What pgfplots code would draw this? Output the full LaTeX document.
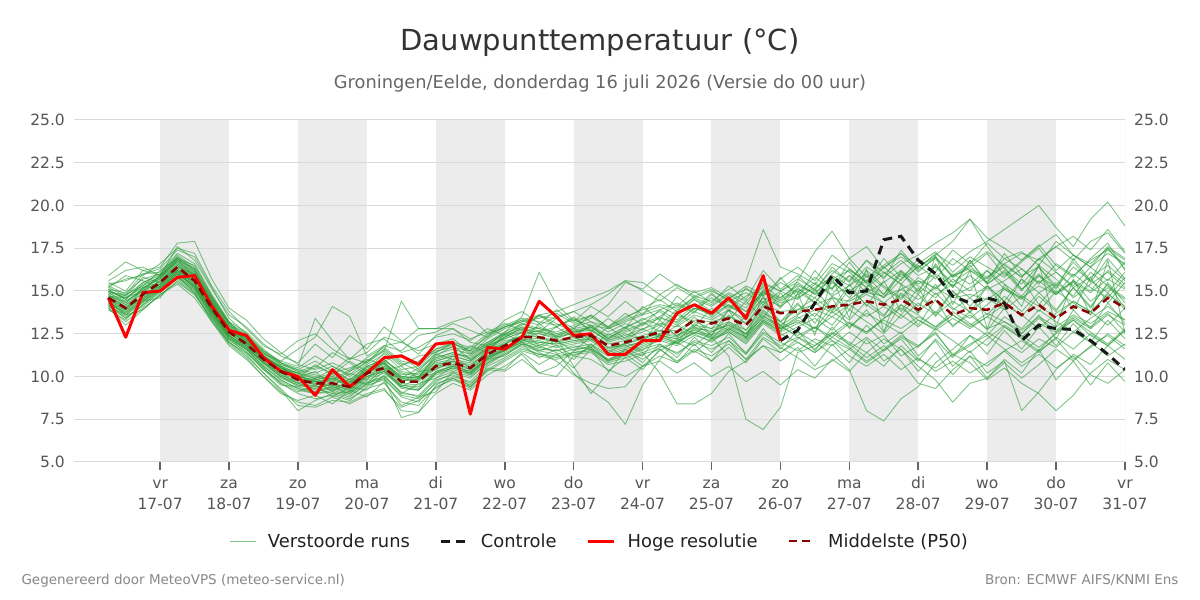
\documentclass[border=0pt]{standalone}
\usepackage{fontspec}
\setmainfont{DejaVu Sans}
\usepackage{pgfplots}
\pgfplotsset{compat=1.18}

\definecolor{runs}{RGB}{44,158,58}
\definecolor{band}{RGB}{236,236,236}
\definecolor{gridc}{RGB}{218,218,218}
\definecolor{ticktxt}{RGB}{85,85,85}
\definecolor{p50}{RGB}{139,0,0}

% two-line date label: weekday over day-month
\newcommand\daylab[2]{\begin{tabular}{@{}c@{}}#1\\#2\end{tabular}}

% 6-hourly series: ensemble and median start 16-07 06 UTC, control continues from 26-07 00 UTC
\pgfplotsset{
  /pgfplots/table/ens/.style={row sep=\\, header=false, x expr=16.25+0.25*\coordindex, y index=0},
  /pgfplots/table/ctl/.style={row sep=\\, header=false, x expr=26+0.25*\coordindex, y index=0},
  run/.style={runs, opacity=0.6, line width=0.9pt, line join=round},
  legend image code/.code={\draw[#1] (0pt,0pt) -- (26pt,0pt);},
  frame/.style={at={(74pt,138pt)}, anchor=south west, scale only axis,
    width=1051pt, height=342pt, xmin=15.75, xmax=31, ymin=5, ymax=25},
}

\begin{document}
\begin{tikzpicture}[x=1pt,y=1pt]
\path[use as bounding box] (0,0) rectangle (1200,600);

\node[anchor=base, text=black!80, font=\fontsize{29}{35}\selectfont] at (600,549) {Dauwpunttemperatuur (°C)};
\node[anchor=base, text=black!60, font=\fontsize{17.8}{21}\selectfont] at (600,511) {Groningen/Eelde, donderdag 16 juli 2026 (Versie do 00 uur)};
\node[anchor=base west, text=black!47, font=\fontsize{13.5}{16}\selectfont] at (18,15) {Gegenereerd door MeteoVPS (meteo-service.nl)};
\node[anchor=base east, text=black!47, font=\fontsize{13.5}{16}\selectfont] at (1182,15) {Bron: ECMWF AIFS/KNMI Ens};

% day bands and the right-hand value scale
\begin{axis}[
  frame,
  hide x axis,
  axis y line*=right, y axis line style={draw=none},
  tick align=outside, major tick length=8pt,
  ytick={5,7.5,10,12.5,15,17.5,20,22.5,25},
  yticklabels={5.0,7.5,10.0,12.5,15.0,17.5,20.0,22.5,25.0},
  ytick style={draw=none},
  yticklabel style={text=ticktxt, font=\fontsize{15.5}{18}\selectfont, inner xsep=1pt},
]
\fill[band] (axis cs:17,5) rectangle (axis cs:18,25);
\fill[band] (axis cs:19,5) rectangle (axis cs:20,25);
\fill[band] (axis cs:21,5) rectangle (axis cs:22,25);
\fill[band] (axis cs:23,5) rectangle (axis cs:24,25);
\fill[band] (axis cs:25,5) rectangle (axis cs:26,25);
\fill[band] (axis cs:27,5) rectangle (axis cs:28,25);
\fill[band] (axis cs:29,5) rectangle (axis cs:30,25);
\draw[gridc, line width=1pt] (axis cs:31,5) -- (axis cs:31,25);
\end{axis}

\begin{axis}[
  frame, clip=true,
  axis line style={draw=none},
  tick align=outside, major tick length=8pt,
  xtick={17,...,31},
  xticklabels={{\daylab{vr}{17-07}},{\daylab{za}{18-07}},{\daylab{zo}{19-07}},{\daylab{ma}{20-07}},{\daylab{di}{21-07}},{\daylab{wo}{22-07}},{\daylab{do}{23-07}},{\daylab{vr}{24-07}},{\daylab{za}{25-07}},{\daylab{zo}{26-07}},{\daylab{ma}{27-07}},{\daylab{di}{28-07}},{\daylab{wo}{29-07}},{\daylab{do}{30-07}},{\daylab{vr}{31-07}}},
  xtick pos=lower,
  xtick style={draw=black!60, line width=1.6pt},
  xticklabel style={text=ticktxt, font=\fontsize{15.5}{21}\selectfont, anchor=north, inner ysep=0pt, yshift=-3.5pt},
  ytick={5,7.5,10,12.5,15,17.5,20,22.5,25},
  yticklabels={5.0,7.5,10.0,12.5,15.0,17.5,20.0,22.5,25.0},
  ytick pos=left,
  ytick style={draw=none},
  yticklabel style={text=ticktxt, font=\fontsize{15.5}{18}\selectfont, inner xsep=1pt},
  ymajorgrids, grid style={gridc, line width=1pt},
  legend columns=4,
  legend style={at={(0.5,-0.231)}, anchor=center, draw=none, fill=none,
    font=\fontsize{17.9}{21}\selectfont, text=black!87,
    /tikz/every odd column/.append style={column sep=10pt},
    /tikz/every even column/.append style={column sep=28pt}},
]
% perturbed ensemble members
\addplot[run] table[ens] {15.0\\14.6\\15.3\\15.8\\16.9\\16.2\\14.5\\13.0\\12.3\\11.2\\10.5\\10.1\\9.9\\10.4\\9.8\\10.6\\11.0\\10.2\\10.0\\11.1\\11.4\\11.0\\11.8\\12.2\\12.6\\12.9\\12.5\\12.8\\13.0\\12.4\\12.9\\13.3\\13.8\\13.1\\14.0\\13.6\\14.2\\13.5\\14.9\\14.3\\14.6\\15.2\\15.8\\15.0\\15.6\\16.1\\15.4\\14.8\\15.9\\14.7\\15.2\\15.8\\16.4\\15.1\\16.0\\14.9\\15.6\\15.0\\16.2\\15.4\\};
\addlegendentry{Verstoorde runs}
\addplot[run, forget plot] table[ens] {14.2\\13.5\\14.1\\14.9\\15.8\\15.1\\13.6\\12.2\\11.6\\10.5\\9.6\\9.0\\8.7\\8.9\\8.6\\9.4\\9.9\\8.8\\8.5\\9.7\\10.2\\9.9\\10.8\\11.4\\11.9\\11.6\\11.5\\11.8\\11.6\\10.9\\11.2\\11.6\\11.9\\11.3\\12.1\\11.8\\12.3\\11.4\\12.6\\12.0\\11.5\\12.2\\11.8\\12.6\\11.9\\12.4\\11.2\\11.8\\12.5\\11.3\\11.9\\12.4\\11.6\\10.8\\11.5\\12.2\\11.0\\11.7\\12.5\\11.8\\};
\addplot[run, forget plot] table[ens] {15.4\\15.6\\16.0\\16.3\\17.4\\17.0\\15.2\\13.4\\12.5\\11.5\\10.8\\10.5\\11.2\\10.6\\10.1\\10.9\\11.6\\10.8\\10.3\\11.4\\11.9\\11.5\\12.0\\12.5\\13.0\\13.6\\13.1\\12.6\\12.9\\12.2\\12.8\\13.4\\13.0\\13.9\\14.5\\13.8\\14.6\\14.0\\15.3\\14.6\\15.4\\14.8\\16.0\\16.9\\15.8\\16.5\\17.2\\16.4\\17.0\\15.9\\16.6\\17.3\\16.5\\15.8\\16.9\\17.6\\16.8\\17.9\\18.4\\17.2\\};
\addplot[run, forget plot] table[ens] {14.8\\14.2\\15.0\\15.6\\16.6\\15.9\\14.3\\12.9\\12.1\\11.3\\10.9\\11.6\\12.3\\14.1\\13.5\\11.2\\11.8\\12.0\\11.5\\11.9\\12.2\\11.4\\11.9\\12.4\\12.8\\12.6\\12.9\\13.4\\12.7\\12.1\\12.5\\12.1\\12.9\\13.6\\13.2\\12.8\\13.9\\13.1\\14.4\\13.2\\13.9\\14.6\\13.8\\15.1\\14.2\\13.5\\14.9\\14.1\\15.4\\14.0\\13.4\\14.2\\15.1\\14.6\\13.8\\15.0\\14.3\\13.6\\14.9\\13.9\\};
\addplot[run, forget plot] table[ens] {15.2\\15.9\\15.6\\15.2\\16.1\\15.3\\13.9\\12.4\\11.8\\11.1\\10.6\\10.2\\10.0\\9.7\\10.3\\10.8\\11.5\\14.4\\12.8\\12.8\\12.8\\12.0\\11.8\\12.6\\13.1\\12.8\\12.4\\12.9\\13.2\\12.6\\13.1\\12.7\\13.5\\14.2\\13.7\\14.8\\14.1\\13.6\\15.1\\14.4\\15.0\\14.3\\15.5\\14.8\\16.2\\15.3\\14.6\\15.8\\15.1\\16.0\\15.4\\16.2\\15.1\\14.5\\15.6\\14.8\\16.0\\15.2\\14.6\\15.8\\};
\addplot[run, forget plot] table[ens] {14.0\\13.2\\14.0\\14.7\\15.6\\14.8\\13.4\\12.0\\11.3\\10.2\\9.3\\8.3\\8.2\\8.6\\8.5\\9.0\\9.3\\8.0\\7.9\\9.0\\9.6\\9.2\\10.1\\10.6\\11.3\\10.2\\10.0\\11.2\\11.0\\10.4\\10.0\\10.6\\11.2\\10.8\\11.5\\10.9\\11.7\\10.8\\12.2\\11.4\\12.0\\11.4\\12.3\\11.7\\10.9\\11.6\\12.4\\11.8\\12.6\\11.2\\11.8\\12.6\\12.0\\11.4\\12.2\\11.7\\12.6\\12.0\\11.2\\11.9\\};
\addplot[run, forget plot] table[ens] {14.5\\13.8\\14.6\\15.3\\16.2\\15.5\\13.8\\12.5\\11.9\\10.8\\10.0\\9.4\\9.1\\9.3\\9.0\\9.8\\10.2\\9.4\\9.2\\10.1\\10.4\\10.1\\10.9\\11.5\\12.0\\11.8\\11.4\\10.2\\9.2\\8.5\\7.2\\9.5\\11.0\\12.2\\11.8\\12.6\\13.0\\12.4\\13.6\\12.8\\13.2\\12.6\\13.8\\13.1\\12.5\\13.4\\14.2\\13.6\\12.9\\13.8\\13.1\\12.4\\13.5\\12.8\\13.9\\13.2\\12.6\\13.4\\14.1\\13.3\\};
\addplot[run, forget plot] table[ens] {14.7\\14.3\\15.2\\15.7\\16.8\\16.0\\14.4\\12.8\\12.0\\11.0\\10.4\\9.9\\9.6\\9.2\\9.5\\10.3\\10.8\\10.0\\9.9\\10.8\\11.0\\10.8\\11.6\\12.1\\12.3\\12.5\\12.2\\12.6\\12.8\\12.0\\12.3\\12.6\\13.0\\12.4\\12.9\\12.3\\11.2\\7.5\\6.9\\8.2\\11.4\\11.8\\12.5\\13.2\\12.6\\13.4\\14.0\\13.3\\12.8\\13.6\\12.9\\13.5\\14.2\\13.6\\12.8\\13.7\\14.4\\13.8\\13.0\\14.0\\};
\addplot[run, forget plot] table[ens] {15.1\\14.9\\15.7\\16.0\\17.1\\16.4\\14.7\\13.1\\12.4\\11.4\\10.7\\10.3\\10.1\\9.8\\10.4\\11.0\\10.7\\9.9\\10.5\\11.3\\11.6\\11.3\\12.2\\12.8\\13.2\\13.4\\13.7\\13.1\\13.6\\12.9\\13.4\\14.0\\14.5\\13.8\\14.7\\14.4\\15.1\\15.6\\18.6\\16.4\\16.0\\15.4\\16.6\\16.1\\15.2\\16.0\\16.8\\15.9\\16.4\\15.5\\16.2\\15.7\\16.9\\16.3\\15.4\\16.6\\15.9\\16.8\\17.4\\16.5\\};
\addplot[run, forget plot] table[ens] {14.3\\13.9\\14.5\\15.4\\16.3\\15.5\\13.9\\12.3\\11.7\\10.9\\10.1\\9.7\\9.4\\9.5\\9.2\\10.0\\10.4\\9.5\\9.4\\10.3\\10.6\\10.3\\11.0\\11.6\\12.1\\12.0\\11.9\\12.1\\12.2\\11.5\\11.8\\12.0\\12.4\\12.2\\12.8\\12.7\\13.0\\12.5\\13.7\\13.2\\12.6\\12.0\\11.3\\10.4\\8.0\\7.4\\8.7\\9.4\\10.8\\11.6\\12.4\\11.8\\12.9\\12.2\\11.5\\12.6\\13.3\\12.4\\11.8\\12.7\\};
\addplot[run, forget plot] table[ens] {15.3\\14.8\\16.0\\16.1\\17.2\\16.6\\14.8\\13.2\\12.6\\11.6\\10.8\\10.4\\10.2\\10.6\\10.0\\10.7\\11.3\\10.4\\10.6\\11.5\\11.7\\11.5\\12.4\\12.9\\13.3\\13.0\\13.5\\13.8\\14.2\\14.8\\15.6\\15.0\\14.4\\15.2\\14.6\\15.0\\14.5\\15.3\\14.8\\15.7\\16.4\\15.6\\17.1\\16.3\\15.5\\16.9\\15.8\\16.6\\17.3\\16.1\\17.0\\16.4\\15.8\\16.7\\17.5\\16.2\\17.1\\16.4\\17.6\\16.9\\};
\addplot[run, forget plot] table[ens] {14.9\\14.4\\15.1\\15.9\\16.7\\16.1\\14.4\\12.8\\12.1\\11.2\\10.6\\10.0\\9.8\\10.1\\9.7\\10.5\\10.9\\10.3\\10.1\\11.0\\11.3\\11.2\\12.0\\12.6\\13.5\\16.1\\14.2\\13.3\\13.0\\12.8\\13.2\\13.6\\13.9\\14.3\\13.8\\14.6\\14.0\\14.7\\15.2\\14.1\\14.8\\15.5\\14.7\\15.3\\16.0\\15.2\\14.5\\15.6\\14.8\\15.4\\14.6\\15.3\\14.4\\15.7\\14.9\\15.5\\14.7\\16.1\\15.3\\14.6\\};
\addplot[run, forget plot] table[ens] {14.4\\13.6\\14.3\\15.1\\16.0\\15.2\\13.7\\12.4\\11.8\\10.7\\9.9\\9.5\\9.3\\9.0\\9.1\\9.7\\10.0\\9.1\\8.8\\9.8\\10.1\\9.6\\10.4\\10.3\\11.0\\10.2\\10.6\\11.5\\11.8\\11.2\\11.5\\11.0\\11.7\\12.0\\11.4\\12.2\\12.6\\11.9\\13.1\\12.4\\12.9\\13.4\\12.7\\13.9\\13.2\\12.5\\13.6\\12.9\\13.8\\13.0\\13.6\\12.8\\13.2\\12.5\\13.4\\12.7\\13.5\\12.9\\13.7\\12.6\\};
\addplot[run, forget plot] table[ens] {14.6\\14.1\\14.9\\15.6\\16.5\\15.7\\14.1\\12.7\\11.9\\11.1\\10.2\\9.8\\9.6\\9.9\\9.5\\10.3\\10.7\\9.9\\9.8\\10.7\\10.9\\10.6\\11.5\\12.0\\12.4\\12.7\\12.3\\12.5\\12.9\\12.3\\12.7\\13.1\\13.5\\13.0\\13.8\\13.4\\14.2\\13.6\\14.9\\14.5\\15.1\\14.6\\15.9\\15.3\\16.4\\15.8\\16.6\\17.1\\17.8\\18.4\\19.2\\18.1\\17.5\\16.8\\17.6\\18.3\\17.1\\16.4\\17.2\\16.6\\};
\addplot[run, forget plot] table[ens] {14.8\\14.0\\14.7\\15.4\\16.2\\15.4\\13.9\\12.6\\12.0\\11.0\\10.3\\9.8\\9.5\\9.6\\9.3\\10.1\\10.5\\9.6\\9.5\\10.5\\10.7\\10.4\\11.2\\11.7\\12.2\\12.1\\11.8\\12.0\\12.2\\11.6\\11.9\\12.2\\12.5\\12.3\\12.9\\12.6\\13.1\\12.5\\13.4\\12.9\\12.4\\12.9\\12.1\\11.6\\12.3\\11.5\\12.2\\11.0\\10.5\\11.3\\10.8\\9.8\\10.5\\9.6\\9.0\\8.0\\8.9\\10.2\\11.0\\10.4\\};
\addplot[run, forget plot] table[ens] {15.0\\14.5\\15.4\\15.8\\16.8\\15.9\\14.2\\12.7\\12.0\\11.1\\10.4\\10.0\\9.7\\9.9\\9.6\\10.4\\10.8\\10.0\\9.9\\10.9\\11.2\\10.9\\11.7\\12.3\\12.7\\12.6\\12.4\\12.7\\12.9\\12.2\\12.6\\13.0\\13.4\\13.2\\14.0\\13.7\\14.4\\13.8\\15.0\\14.6\\15.3\\14.9\\15.7\\16.2\\15.6\\16.4\\17.0\\16.3\\17.2\\16.5\\17.3\\17.9\\18.6\\19.3\\20.0\\18.7\\17.6\\19.2\\20.2\\18.8\\};
\addplot[run, forget plot] table[ens] {14.4\\13.7\\14.4\\15.2\\16.1\\15.3\\13.8\\12.3\\11.6\\10.8\\10.0\\9.6\\9.2\\9.4\\9.1\\9.9\\10.3\\9.3\\9.2\\10.2\\10.5\\10.2\\11.1\\11.6\\12.1\\11.9\\11.7\\11.9\\12.1\\11.4\\11.7\\12.1\\12.4\\12.2\\12.7\\12.4\\12.9\\12.3\\13.5\\13.0\\13.6\\14.3\\13.7\\14.5\\15.2\\14.6\\15.7\\16.4\\17.1\\17.9\\19.2\\17.6\\16.3\\15.4\\16.5\\15.7\\14.6\\15.4\\16.1\\15.2\\};
\addplot[run, forget plot] table[ens] {15.6\\16.2\\16.4\\15.9\\17.0\\16.3\\14.6\\13.0\\12.2\\11.3\\10.6\\10.2\\10.5\\11.4\\10.8\\10.1\\10.9\\11.3\\10.4\\11.2\\11.8\\11.0\\11.6\\12.3\\12.9\\12.3\\12.0\\12.4\\11.7\\12.5\\12.1\\12.8\\12.3\\13.0\\12.5\\13.2\\12.7\\13.5\\14.6\\12.9\\14.2\\13.5\\14.7\\13.9\\15.1\\14.3\\13.6\\14.8\\13.7\\15.0\\14.1\\15.3\\14.4\\13.5\\14.7\\13.8\\15.2\\14.0\\15.5\\14.3\\};
\addplot[run, forget plot] table[ens] {14.1\\13.4\\14.2\\15.0\\15.9\\15.1\\13.5\\12.1\\11.5\\10.4\\9.7\\9.2\\9.0\\9.2\\8.9\\9.5\\9.8\\8.9\\8.7\\9.6\\9.9\\9.5\\10.6\\11.1\\11.7\\11.3\\11.2\\11.4\\11.5\\10.8\\11.1\\11.4\\11.8\\11.4\\12.0\\11.6\\12.1\\11.3\\12.5\\11.8\\12.3\\11.8\\12.6\\12.0\\11.4\\12.2\\11.6\\10.6\\9.8\\8.5\\9.6\\9.9\\10.8\\9.9\\10.7\\11.6\\10.9\\11.8\\12.4\\11.6\\};
\addplot[run, forget plot] table[ens] {14.6\\14.2\\14.8\\15.5\\16.3\\15.6\\14.0\\12.6\\11.8\\11.0\\10.3\\9.9\\9.7\\9.7\\9.6\\10.3\\10.6\\9.8\\9.8\\10.7\\10.9\\10.7\\11.4\\11.9\\12.4\\12.3\\12.1\\12.3\\12.5\\11.9\\12.1\\12.4\\12.7\\12.7\\13.3\\13.2\\13.5\\13.1\\14.2\\13.8\\13.9\\14.2\\14.6\\14.4\\14.9\\14.7\\15.1\\14.5\\15.2\\14.6\\14.8\\14.5\\15.2\\14.6\\15.3\\14.8\\15.5\\14.9\\15.7\\15.1\\};
\addplot[run, forget plot] table[ens] {14.0\\13.0\\13.9\\14.8\\15.5\\14.8\\13.4\\12.0\\11.2\\10.2\\9.2\\8.0\\8.6\\9.0\\8.7\\9.3\\9.6\\8.5\\8.3\\9.4\\9.8\\9.4\\10.3\\10.9\\11.5\\11.2\\11.0\\11.3\\11.4\\10.7\\10.9\\11.3\\11.6\\10.9\\11.6\\11.2\\11.9\\11.0\\12.3\\11.7\\11.1\\10.4\\10.9\\11.6\\10.8\\11.5\\12.3\\11.7\\12.8\\12.1\\11.4\\12.2\\13.0\\12.4\\11.7\\12.5\\13.3\\12.6\\11.9\\12.8\\};
\addplot[run, forget plot] table[ens] {15.9\\16.7\\16.2\\16.4\\17.8\\17.9\\15.7\\14.0\\13.3\\12.2\\11.4\\10.7\\10.4\\10.8\\10.3\\11.1\\11.7\\10.9\\10.7\\11.6\\12.0\\11.7\\12.5\\13.0\\13.4\\13.2\\13.0\\13.3\\13.5\\12.8\\13.3\\13.7\\14.1\\13.6\\14.5\\14.1\\14.8\\14.2\\15.5\\15.0\\15.7\\15.1\\16.2\\15.6\\16.8\\16.1\\15.4\\16.5\\15.7\\16.9\\16.2\\15.5\\16.6\\15.8\\16.9\\16.1\\15.3\\16.4\\15.6\\16.7\\};
\addplot[run, forget plot] table[ens] {14.3\\13.7\\14.5\\15.2\\16.0\\15.3\\13.7\\12.2\\11.6\\10.6\\9.8\\9.3\\9.1\\9.4\\9.0\\9.6\\9.9\\7.6\\7.9\\9.5\\10.0\\9.7\\10.7\\11.3\\11.8\\11.5\\11.3\\11.6\\11.7\\11.0\\11.3\\11.7\\12.1\\11.8\\12.4\\12.1\\12.6\\12.0\\13.2\\12.7\\13.3\\12.8\\13.5\\12.9\\13.7\\13.1\\12.5\\13.3\\12.7\\13.4\\12.8\\13.5\\12.9\\12.3\\13.1\\12.6\\13.4\\12.8\\13.6\\13.0\\};
\addplot[run, forget plot] table[ens] {15.2\\14.7\\15.5\\15.9\\16.9\\16.1\\14.5\\13.0\\12.3\\11.5\\10.9\\10.6\\13.4\\12.1\\11.0\\11.4\\12.3\\12.0\\12.8\\12.8\\13.2\\13.5\\12.5\\12.9\\13.2\\13.5\\13.4\\13.8\\13.2\\12.9\\13.5\\13.9\\14.2\\14.0\\14.6\\14.2\\14.9\\14.4\\15.4\\15.0\\15.5\\14.8\\15.2\\15.9\\14.9\\15.5\\16.2\\15.4\\16.0\\15.3\\15.9\\15.1\\15.6\\16.3\\15.5\\16.1\\15.2\\15.8\\16.5\\15.6\\};
\addplot[run, forget plot] table[ens] {14.5\\14.0\\14.6\\15.3\\16.2\\15.4\\13.8\\12.5\\11.9\\10.9\\10.1\\9.6\\9.4\\9.5\\9.2\\10.0\\10.4\\9.4\\9.2\\10.2\\10.5\\10.2\\11.0\\11.6\\12.0\\11.4\\10.9\\10.1\\9.6\\9.3\\9.4\\10.6\\11.5\\12.1\\12.5\\12.0\\12.8\\12.3\\13.3\\12.6\\13.1\\13.7\\13.0\\14.2\\13.5\\14.1\\13.4\\14.3\\13.6\\14.4\\13.8\\14.6\\13.9\\14.7\\14.1\\13.5\\14.4\\13.8\\14.8\\14.1\\};
\addplot[run, forget plot] table[ens] {14.7\\14.4\\15.0\\15.6\\16.4\\15.7\\14.2\\12.7\\12.0\\11.1\\10.4\\9.9\\9.7\\9.8\\9.5\\10.2\\10.6\\9.8\\9.7\\10.6\\10.8\\10.5\\11.3\\11.9\\12.3\\12.2\\12.0\\12.2\\12.4\\11.7\\11.8\\11.4\\10.2\\8.4\\8.4\\9.0\\10.3\\10.9\\11.8\\11.4\\12.2\\12.9\\12.3\\13.1\\12.6\\13.3\\12.8\\13.5\\12.9\\13.6\\13.0\\13.7\\13.2\\12.7\\13.5\\12.9\\13.6\\13.1\\13.8\\13.3\\};
\addplot[run, forget plot] table[ens] {15.0\\14.6\\15.2\\15.7\\16.6\\15.8\\14.3\\12.9\\12.2\\11.2\\10.5\\10.2\\9.9\\10.2\\9.8\\10.6\\11.0\\10.1\\10.2\\11.1\\11.4\\11.1\\11.9\\12.5\\12.9\\12.8\\12.6\\13.0\\13.4\\14.2\\15.5\\15.1\\16.0\\15.3\\14.9\\15.2\\14.6\\15.1\\14.7\\15.5\\14.9\\15.8\\15.1\\16.3\\15.5\\14.8\\16.0\\15.3\\14.6\\15.7\\15.0\\16.2\\15.4\\14.7\\15.9\\15.2\\16.4\\15.6\\14.9\\16.1\\};
\addplot[run, forget plot] table[ens] {14.2\\13.8\\14.4\\15.1\\16.0\\15.2\\13.6\\12.3\\11.6\\10.6\\9.8\\9.3\\9.0\\9.1\\8.8\\9.6\\10.0\\9.0\\8.9\\9.9\\10.3\\10.0\\10.8\\11.3\\11.9\\11.7\\11.5\\11.7\\11.9\\11.3\\11.6\\11.9\\12.3\\12.0\\12.6\\12.2\\12.7\\12.1\\13.2\\12.5\\12.0\\11.4\\12.1\\11.2\\10.6\\11.3\\10.4\\11.1\\10.3\\10.9\\10.2\\10.8\\11.5\\10.6\\11.3\\10.5\\11.2\\10.1\\9.6\\10.4\\};
\addplot[run, forget plot] table[ens] {14.9\\14.3\\15.1\\15.8\\16.7\\15.9\\14.3\\12.8\\12.1\\11.2\\10.5\\10.0\\9.8\\10.0\\9.7\\10.4\\10.8\\9.9\\10.0\\10.9\\11.2\\10.9\\11.7\\12.2\\12.6\\12.5\\12.3\\12.6\\12.7\\12.1\\12.4\\12.8\\13.1\\12.9\\13.6\\13.3\\13.9\\13.3\\14.6\\14.1\\15.6\\17.3\\18.5\\16.9\\17.6\\16.3\\17.2\\16.1\\17.0\\15.8\\16.5\\15.4\\16.2\\15.1\\15.9\\14.8\\15.6\\14.4\\15.2\\14.5\\};
\addplot[run, forget plot] table[ens] {14.4\\13.9\\14.7\\15.4\\16.2\\15.5\\13.9\\12.4\\11.7\\10.8\\10.0\\9.5\\9.3\\9.6\\9.3\\10.0\\10.3\\9.5\\9.3\\10.3\\10.6\\10.3\\11.1\\11.7\\12.2\\12.0\\11.9\\12.1\\12.3\\11.7\\11.9\\12.3\\12.5\\12.4\\13.0\\12.8\\13.2\\12.7\\13.9\\13.0\\12.3\\11.6\\12.5\\11.9\\11.1\\11.8\\10.9\\9.6\\9.3\\10.4\\11.2\\10.6\\11.5\\12.1\\11.4\\12.3\\11.6\\12.5\\11.8\\12.7\\};
\addplot[run, forget plot] table[ens] {15.5\\15.0\\16.2\\15.9\\17.6\\16.8\\15.1\\13.6\\12.9\\11.9\\11.2\\10.8\\11.9\\11.1\\12.4\\11.6\\12.9\\12.1\\11.3\\12.4\\12.8\\12.2\\12.6\\13.1\\12.7\\13.6\\12.9\\13.5\\12.6\\13.4\\12.8\\14.1\\13.3\\14.7\\13.9\\14.9\\13.8\\15.2\\14.3\\15.8\\14.6\\16.2\\15.1\\16.7\\15.4\\14.6\\16.1\\14.9\\16.6\\15.2\\16.8\\15.5\\17.2\\15.9\\16.4\\15.1\\16.9\\15.6\\17.5\\16.3\\};
\addplot[run, forget plot] table[ens] {13.9\\13.3\\14.4\\14.6\\15.9\\14.9\\13.2\\11.8\\11.0\\10.0\\9.0\\8.6\\8.9\\8.4\\9.2\\8.8\\9.7\\8.3\\8.8\\9.1\\10.3\\9.4\\10.5\\10.4\\11.4\\10.7\\11.3\\10.5\\11.6\\10.3\\11.1\\10.4\\11.6\\10.8\\11.9\\10.9\\12.1\\11.0\\11.8\\10.9\\11.7\\10.6\\11.9\\10.8\\12.2\\10.9\\11.6\\10.3\\11.4\\10.1\\11.2\\9.9\\11.0\\10.2\\11.6\\9.8\\10.9\\9.5\\10.8\\9.7\\};
\addplot[run, forget plot] table[ens] {14.9\\14.8\\15.3\\16.2\\16.9\\16.5\\14.7\\13.2\\12.2\\11.4\\10.7\\10.4\\10.9\\10.3\\11.1\\10.8\\11.8\\11.5\\12.4\\12.6\\13.1\\12.7\\12.3\\13.3\\13.8\\13.1\\13.9\\13.2\\14.1\\13.5\\14.4\\13.6\\14.8\\14.1\\15.0\\14.3\\15.3\\14.5\\16.2\\15.1\\15.9\\15.0\\16.4\\15.5\\16.8\\15.7\\17.4\\16.2\\16.9\\15.8\\16.4\\17.2\\15.9\\16.8\\17.7\\16.5\\15.8\\16.9\\17.8\\16.2\\};
\addplot[run, forget plot] table[ens] {14.6\\13.9\\15.2\\15.4\\16.5\\15.8\\14.0\\12.7\\12.2\\11.1\\10.6\\9.9\\10.3\\9.4\\10.2\\9.8\\10.9\\9.6\\10.3\\10.4\\11.2\\10.5\\11.6\\11.9\\12.6\\11.8\\12.3\\10.6\\9.0\\10.2\\11.6\\11.2\\12.5\\12.0\\13.1\\12.4\\13.6\\12.7\\14.1\\13.2\\14.3\\13.1\\14.6\\12.8\\13.9\\12.6\\14.2\\13.0\\14.5\\12.9\\13.8\\12.7\\14.0\\12.5\\13.6\\12.2\\13.9\\12.8\\14.3\\13.1\\};
\addplot[run, forget plot] table[ens] {15.1\\14.5\\15.5\\16.0\\17.0\\16.2\\14.6\\13.1\\12.5\\11.4\\10.8\\10.3\\10.6\\10.2\\10.5\\10.9\\11.5\\10.7\\10.9\\11.6\\11.9\\11.6\\12.3\\12.9\\13.3\\13.6\\13.8\\14.2\\14.6\\15.0\\15.6\\15.5\\14.8\\15.4\\14.7\\15.1\\14.4\\14.9\\14.2\\15.0\\14.5\\15.4\\14.8\\15.9\\15.2\\16.4\\15.6\\16.9\\16.1\\17.4\\16.6\\17.8\\16.9\\17.3\\16.5\\17.9\\17.1\\16.6\\17.5\\16.8\\};
\addplot[run, forget plot] table[ens] {14.3\\13.6\\14.4\\15.0\\15.8\\15.0\\13.5\\12.2\\11.4\\10.5\\9.6\\9.1\\9.5\\8.8\\9.4\\9.2\\10.1\\9.0\\9.6\\9.9\\10.6\\10.1\\11.0\\11.2\\11.9\\11.1\\11.6\\11.0\\11.9\\10.9\\11.6\\10.8\\11.9\\11.1\\12.3\\11.4\\12.5\\11.3\\12.8\\11.6\\12.7\\11.5\\12.9\\11.8\\13.0\\11.9\\12.6\\11.2\\12.1\\10.6\\11.5\\10.2\\10.9\\8.0\\9.1\\10.4\\11.3\\10.7\\11.8\\11.0\\};
\addplot[run, forget plot] table[ens] {15.3\\15.7\\15.9\\16.6\\17.5\\17.2\\15.3\\13.8\\12.8\\11.8\\11.3\\12.1\\12.5\\11.6\\11.0\\11.9\\12.2\\11.4\\11.7\\12.3\\12.5\\12.1\\12.8\\12.4\\13.1\\12.6\\13.4\\12.8\\13.6\\12.9\\13.7\\13.0\\13.9\\13.3\\14.2\\13.5\\14.6\\13.8\\15.0\\14.0\\15.2\\14.3\\15.6\\14.6\\15.9\\14.8\\16.2\\15.0\\16.5\\15.2\\16.8\\15.4\\16.1\\15.0\\16.4\\15.3\\16.7\\15.5\\16.9\\15.7\\};
\addplot[run, forget plot] table[ens] {14.5\\14.1\\14.5\\15.2\\16.1\\15.2\\13.7\\12.4\\11.7\\10.8\\10.2\\9.6\\9.9\\9.3\\9.7\\9.6\\10.5\\9.7\\10.0\\10.4\\10.9\\10.4\\11.2\\11.5\\12.0\\11.5\\11.8\\11.2\\11.7\\10.9\\11.3\\10.6\\10.9\\10.2\\10.8\\10.0\\10.6\\9.7\\10.3\\9.5\\10.4\\9.9\\11.0\\10.3\\11.4\\10.6\\11.8\\10.9\\12.2\\11.1\\12.4\\11.3\\12.7\\11.6\\12.9\\11.8\\13.1\\12.0\\13.3\\12.2\\};
\addplot[run, forget plot] table[ens] {14.7\\14.6\\15.0\\15.9\\16.8\\16.3\\14.1\\12.6\\12.3\\10.9\\10.4\\10.2\\9.5\\10.0\\9.3\\10.6\\10.4\\10.6\\9.9\\11.3\\11.0\\11.8\\11.4\\12.5\\12.0\\13.1\\12.3\\12.8\\12.1\\12.9\\12.2\\13.2\\12.6\\13.8\\12.9\\14.0\\13.3\\14.4\\13.4\\14.9\\13.6\\15.1\\13.9\\15.4\\14.1\\15.6\\13.8\\15.2\\13.5\\15.0\\13.7\\15.3\\14.0\\15.7\\14.2\\15.4\\13.9\\15.8\\14.3\\15.5\\};
\addplot[run, forget plot] table[ens] {14.2\\13.4\\14.2\\15.0\\15.7\\14.9\\13.3\\11.9\\11.1\\10.0\\9.1\\8.5\\8.3\\8.8\\8.4\\8.9\\9.2\\8.2\\8.6\\9.3\\9.9\\9.3\\10.4\\11.0\\11.6\\11.3\\11.1\\11.4\\11.6\\11.0\\11.4\\11.8\\12.2\\11.9\\12.6\\12.3\\12.8\\12.2\\13.3\\12.8\\13.4\\13.9\\13.5\\14.2\\14.8\\14.3\\15.1\\15.6\\15.2\\15.9\\16.3\\15.8\\16.6\\17.2\\16.8\\17.6\\18.2\\17.4\\18.6\\17.3\\};
\addplot[run, forget plot] table[ens] {14.1\\13.6\\13.9\\14.8\\15.4\\14.6\\13.2\\12.0\\11.4\\10.4\\9.5\\9.4\\9.8\\9.1\\9.9\\9.5\\10.3\\9.4\\9.9\\10.2\\10.7\\10.2\\11.1\\11.5\\12.2\\11.7\\12.1\\11.5\\12.3\\11.4\\12.0\\11.5\\12.4\\11.9\\12.8\\12.2\\13.2\\12.5\\13.8\\12.8\\13.5\\12.8\\14.1\\13.3\\14.4\\13.6\\14.8\\13.7\\14.9\\13.9\\14.6\\13.6\\14.7\\13.8\\14.9\\13.9\\15.2\\14.1\\15.4\\14.0\\};
\addplot[run, forget plot] table[ens] {15.0\\14.7\\15.8\\15.5\\16.4\\16.0\\14.4\\13.2\\12.0\\11.2\\10.5\\9.9\\10.7\\10.1\\10.9\\10.3\\11.4\\10.6\\11.2\\11.4\\12.0\\11.3\\11.8\\12.3\\12.8\\12.2\\12.9\\12.3\\13.0\\12.2\\12.9\\12.0\\13.3\\12.3\\13.5\\12.4\\13.9\\12.2\\14.8\\12.6\\14.9\\12.4\\15.8\\13.4\\16.3\\12.6\\15.4\\13.7\\17.1\\14.2\\16.2\\12.8\\15.4\\14.1\\16.6\\12.9\\15.7\\13.6\\16.8\\12.5\\};

% control run (continues after the high-resolution run ends)
\addplot[black!90, line width=3pt, dash pattern=on 9pt off 6pt] table[ctl] {12.1\\12.7\\14.3\\15.9\\14.9\\15.0\\18.0\\18.2\\16.8\\16.0\\14.7\\14.3\\14.6\\14.3\\12.1\\13.0\\12.8\\12.75\\12.1\\11.3\\10.4\\};
\addlegendentry{Controle}

% high-resolution run
\addplot[red, line width=3pt, line join=round] table[ens] {14.6\\12.3\\14.9\\15.0\\15.8\\15.9\\14.1\\12.7\\12.4\\11.1\\10.3\\10.0\\8.9\\10.4\\9.4\\10.2\\11.1\\11.2\\10.7\\11.9\\12.0\\7.8\\11.7\\11.6\\12.3\\14.4\\13.5\\12.4\\12.5\\11.3\\11.3\\12.1\\12.1\\13.7\\14.2\\13.7\\14.6\\13.4\\15.9\\12.1\\};
\addlegendentry{Hoge resolutie}

% ensemble median
\addplot[p50, line width=2.5pt, dash pattern=on 8pt off 5pt] table[ens] {14.6\\14.0\\14.8\\15.5\\16.4\\15.6\\14.0\\12.6\\11.9\\11.0\\10.3\\9.8\\9.6\\9.6\\9.4\\10.2\\10.5\\9.7\\9.7\\10.6\\10.8\\10.5\\11.3\\11.8\\12.3\\12.3\\12.1\\12.3\\12.4\\11.8\\12.0\\12.3\\12.6\\12.6\\13.3\\13.1\\13.4\\13.0\\14.1\\13.7\\13.8\\13.9\\14.1\\14.2\\14.4\\14.2\\14.5\\13.9\\14.5\\13.6\\14.0\\13.9\\14.3\\13.6\\14.2\\13.4\\14.1\\13.7\\14.6\\14.0\\};
\addlegendentry{Middelste (P50)}
\end{axis}
\end{tikzpicture}
\end{document}
